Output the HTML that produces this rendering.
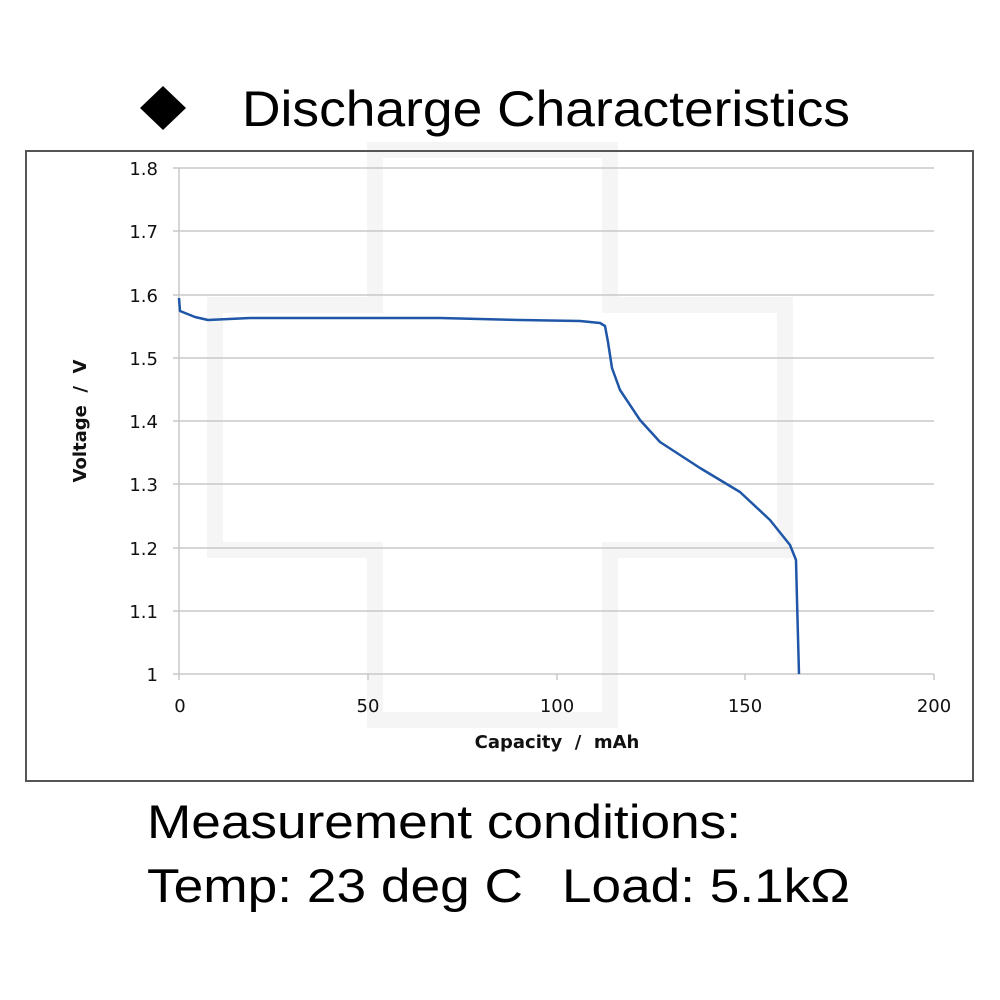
<!DOCTYPE html>
<html><head><meta charset="utf-8"><style>
html,body{margin:0;padding:0;background:#fff;width:1000px;height:1000px;overflow:hidden}
</style></head><body>
<svg width="1000" height="1000" xmlns="http://www.w3.org/2000/svg" style="position:absolute;left:0;top:0">
<rect width="1000" height="1000" fill="#fff"/>
<path d="M375,150 L610,150 L610,305 L785,305 L785,550 L610,550 L610,720 L375,720 L375,550 L215,550 L215,305 L375,305 Z" fill="none" stroke="#f5f5f5" stroke-width="16"/>
<path d="M140,108 L163,86 L186,108 L163,130 Z" fill="#000"/>
<text x="242" y="126" font-family="Liberation Sans, sans-serif" font-size="50" fill="#000" textLength="608" lengthAdjust="spacingAndGlyphs">Discharge Characteristics</text>
<rect x="26" y="151" width="947" height="630" fill="none" stroke="#555" stroke-width="2"/>
<g stroke="#c8c8c8" stroke-width="1.5">
<line x1="173" y1="168" x2="934" y2="168"/>
<line x1="173" y1="231" x2="934" y2="231"/>
<line x1="173" y1="295" x2="934" y2="295"/>
<line x1="173" y1="358" x2="934" y2="358"/>
<line x1="173" y1="421" x2="934" y2="421"/>
<line x1="173" y1="484" x2="934" y2="484"/>
<line x1="173" y1="548" x2="934" y2="548"/>
<line x1="173" y1="611" x2="934" y2="611"/>
<line x1="173" y1="674" x2="934" y2="674"/>
<line x1="179" y1="168" x2="179" y2="680"/>
<line x1="368" y1="674" x2="368" y2="680"/>
<line x1="557" y1="674" x2="557" y2="680"/>
<line x1="745" y1="674" x2="745" y2="680"/>
<line x1="934" y1="674" x2="934" y2="680"/>
</g>
<g font-family="DejaVu Sans, sans-serif" font-size="18" fill="#111" text-anchor="end">
<text x="158" y="175">1.8</text><text x="158" y="238">1.7</text><text x="158" y="302">1.6</text>
<text x="158" y="365">1.5</text><text x="158" y="428">1.4</text><text x="158" y="491">1.3</text>
<text x="158" y="555">1.2</text><text x="158" y="618">1.1</text><text x="158" y="681">1</text>
</g>
<g font-family="DejaVu Sans, sans-serif" font-size="18" fill="#111" text-anchor="middle">
<text x="180" y="712">0</text><text x="368" y="712">50</text><text x="557" y="712">100</text>
<text x="745" y="712">150</text><text x="934" y="712">200</text>
</g>
<text x="557" y="748" font-family="DejaVu Sans, sans-serif" font-size="18" font-weight="bold" text-anchor="middle" fill="#111" xml:space="preserve">Capacity  /  mAh</text>
<text transform="translate(86,421) rotate(-90)" font-family="DejaVu Sans, sans-serif" font-size="18" font-weight="bold" text-anchor="middle" fill="#111" xml:space="preserve">Voltage  /  V</text>
<polyline fill="none" stroke="#1f56a8" stroke-width="2.5" stroke-linejoin="round" points="179,298 180,311 195,317 208,320 250,318 440,318 520,320 580,321 600,323 605,326 608,342 612,368 620,390 640,420 660,442 700,468 740,492 770,520 790,545 796,560 797,600 799,674"/>
<text x="147" y="838" font-family="Liberation Sans, sans-serif" font-size="47" fill="#000" textLength="594" lengthAdjust="spacingAndGlyphs">Measurement conditions:</text>
<text x="147" y="902" font-family="Liberation Sans, sans-serif" font-size="47" fill="#000" textLength="376" lengthAdjust="spacingAndGlyphs">Temp: 23 deg C</text>
<text x="562" y="902" font-family="Liberation Sans, sans-serif" font-size="47" fill="#000" textLength="288" lengthAdjust="spacingAndGlyphs">Load: 5.1kΩ</text>
</svg>
</body></html>
